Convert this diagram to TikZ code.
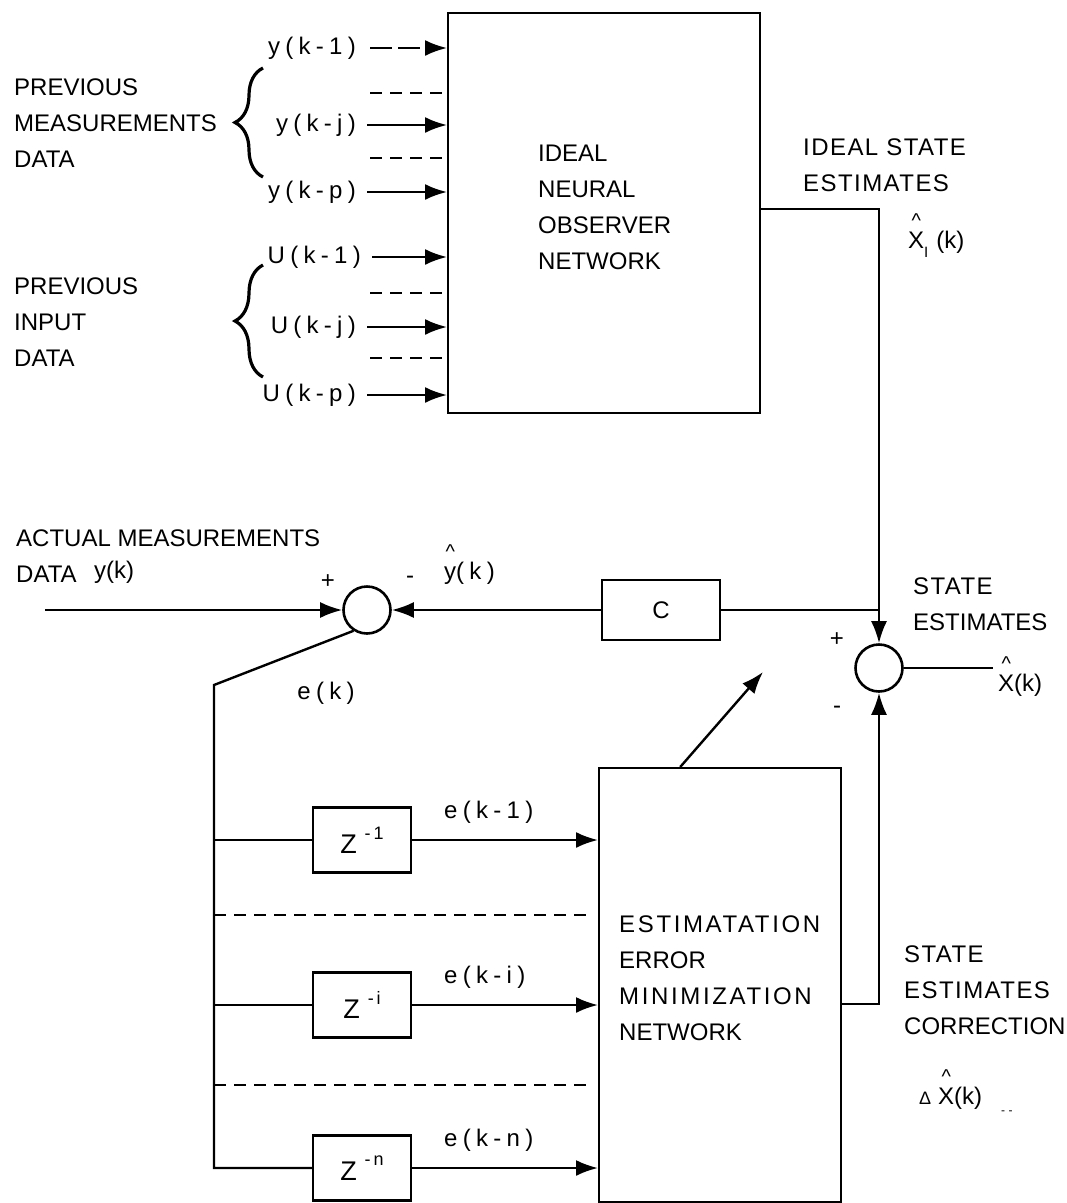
\documentclass[tikz,border=0pt]{standalone}
\usepackage{fontspec}
\setmainfont{Liberation Sans}
\newfontfamily\spc[LetterSpace=22]{Liberation Sans}
\newfontfamily\wid[LetterSpace=11]{Liberation Sans}
\newfontfamily\wida[LetterSpace=6]{Liberation Sans}
\usetikzlibrary{arrows.meta,decorations.pathreplacing}
\newcommand\hatover[1]{\ooalign{#1\cr\hidewidth\smash{\raisebox{21pt}{\fontsize{20}{20}\selectfont\textasciicircum}}\hidewidth\cr}}
\newcommand\smallsup[1]{\raisebox{0.6em}{\fontsize{18}{18}\selectfont #1}}
\begin{document}
\begin{tikzpicture}[x=1pt,y=-1pt,line width=2.4pt,
  every node/.style={font=\fontsize{24}{36}\selectfont,inner sep=0pt},
  lbl/.style={anchor=west,align=left},
  blk/.style={draw,line width=2.4pt},
  sumc/.style={draw,circle,minimum size=47pt,line width=2.6pt},
  arr/.style={-{Latex[length=22pt,width=16pt]}},
  dsh/.style={dash pattern=on 12pt off 8pt},
  brk/.style={dash pattern=on 22pt off 6pt},
  brc/.style={line width=3.2pt,decorate,decoration={brace,amplitude=28pt}}]
\useasboundingbox (0,0) rectangle (1067,1203);

% ---------- top part ----------
\node[blk,minimum width=312pt,minimum height=400pt,anchor=north west] (obs) at (447,12) {};
\node[lbl] (obst) at (537,207) {IDEAL\\NEURAL\\OBSERVER\\NETWORK};

\node[lbl] (pm) at (13,123) {PREVIOUS\\MEASUREMENTS\\DATA};
\node[lbl] (pi) at (13,322) {PREVIOUS\\INPUT\\DATA};
\draw[brc] (263,177) -- (263,68);
\draw[brc] (263,377) -- (263,265);

\node[anchor=east] (y1) at (357,48) {\spc y(k-1)};
\node[anchor=east] (yj) at (357,125) {\spc y(k-j)};
\node[anchor=east] (yp) at (357,192) {\spc y(k-p)};
\node[anchor=east] (u1) at (362,257) {\spc U(k-1)};
\node[anchor=east] (uj) at (357,327) {\spc U(k-j)};
\node[anchor=east] (up) at (357,395) {\spc U(k-p)};
\draw[arr,brk] ([xshift=13pt]y1.east) -- (y1.east -| obs.west);
\foreach \n in {yj,yp,u1,uj,up}
  \draw[arr] ([xshift=10pt]\n.east) -- (\n.east -| obs.west);
\foreach \yy in {93,158,293,358}
  \draw[dsh] (370,\yy) -- (445,\yy);

\node[lbl] (ise) at (802,165) {\wida IDEAL STATE\\\wida ESTIMATES};
\node[lbl] (xi) at (907,244) {\hatover{X}\raisebox{-9pt}{\fontsize{15}{15}\selectfont I}\hspace{8pt}(k)};

% ---------- middle part ----------
\node[lbl] (amd) at (15,556) {ACTUAL MEASUREMENTS\\DATA};
\node[lbl] (yk) at (93,572) {y(k)};
\coordinate (yin) at (45,610);
\node[sumc] (s1) at (367,610) {};
\node[blk,minimum width=118pt,minimum height=60pt] (c) at (661,610) {C};
\node[sumc] (s2) at (879,668) {};

\draw[arr] (yin) -- (s1.west);
\draw[arr] (c.west) -- (s1.east);
\draw (c.east) -- (c.east -| s2.north);
\draw[arr] ([yshift=4pt]obs.east) -| (s2.north);

\node (p1) at (328,582) {+};
\node (m1) at (410,580) {-};
\node[lbl] (yh) at (443,573) {\spc\hatover{y}(k)};
\node (p2) at (837,640) {+};
\node (m2) at (837,710) {-};
\node[lbl] (se) at (912,604) {\wida STATE\\ESTIMATES};
\node[lbl] (xk) at (997,685) {\hatover{X}(k)};
\draw (s2.east) -- ([xshift=-4pt]xk.west |- s2.east);

% ---------- bottom part ----------
\node[blk,minimum width=242pt,minimum height=434pt,anchor=north west] (est) at (598,767) {};
\node[lbl] (estt) at (618,978) {\wid ESTIMATATION\\ERROR\\\wid MINIMIZATION\\NETWORK};

\node[blk,minimum width=98pt,minimum height=65pt] (z1) at (362,840) {{\fontsize{27}{27}\selectfont Z}\hspace{8pt}\smallsup{-\,1}};
\node[blk,minimum width=98pt,minimum height=65pt] (zi) at (362,1005) {{\fontsize{27}{27}\selectfont Z}\hspace{8pt}\smallsup{-\,i}};
\node[blk,minimum width=98pt,minimum height=65pt] (zn) at (362,1168) {{\fontsize{27}{27}\selectfont Z}\hspace{8pt}\smallsup{-\,n}};

\coordinate (ek) at (214,685);
\node (ekl) at (326,693) {\spc e(k)};
\draw (s1.237) -- (ek) |- (zn.west);
\draw (ek |- z1.west) -- (z1.west);
\draw (ek |- zi.west) -- (zi.west);
\foreach \n in {z1,zi,zn}
  \draw[arr] (\n.east) -- (\n.east -| est.west);
\node[lbl] (e1) at (443,812) {\spc e(k-1)};
\node[lbl] (ei) at (443,977) {\spc e(k-i)};
\node[lbl] (en) at (443,1140) {\spc e(k-n)};
\draw[dsh] (ek |- 0,915) -- (588,915);
\draw[dsh] (ek |- 0,1085) -- (588,1085);

\draw[arr] ([yshift=-19pt]est.east) -| (s2.south);
\draw[arr] ([xshift=-40pt]est.north) -- (763,672);

\node[lbl] (sec) at (903,990) {\wida STATE\\\wida ESTIMATES\\CORRECTION};
\node[lbl] (dx) at (918,1098) {{\fontsize{18}{18}\selectfont Δ}\hspace{7pt}\hatover{X}(k)};
\node[lbl] (dd) at (1000,1113) {\fontsize{12}{12}\selectfont - -};
\end{tikzpicture}
\end{document}
